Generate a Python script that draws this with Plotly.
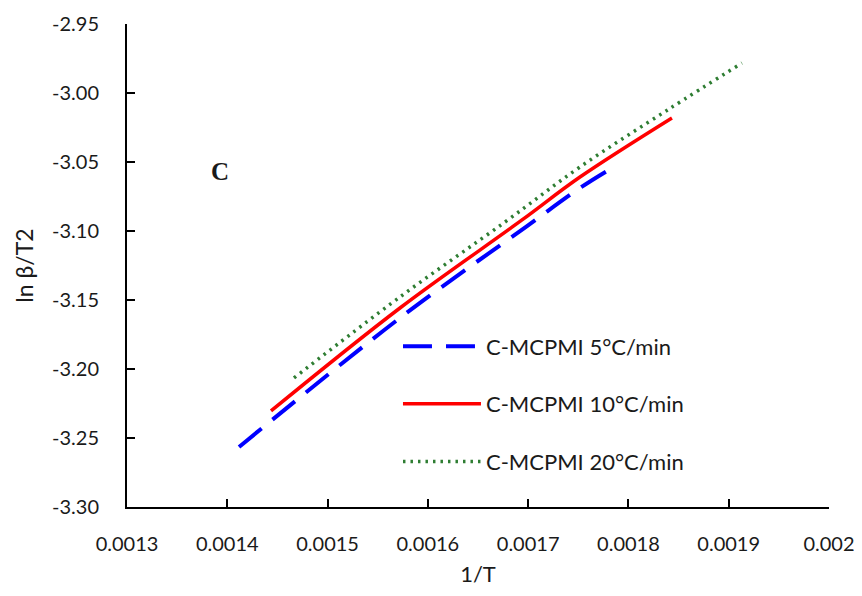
import plotly.graph_objects as go

# ---- data ----
x_5 = [0.0014117, 0.0015722, 0.0016989, 0.0017517, 0.0017786]
y_5 = [-3.2565, -3.1630, -3.0964, -3.0688, -3.0565]

x_10 = [0.0014436, 0.0015722, 0.0016939, 0.0017517, 0.0018434]
y_10 = [-3.2304, -3.1558, -3.0920, -3.0609, -3.0181]

x_20 = [0.0014665, 0.0015722, 0.0016769, 0.0017517, 0.0018405, 0.0019132]
y_20 = [-3.2065, -3.1478, -3.0935, -3.0536, -3.0116, -2.9783]

names = ["C-MCPMI 5°C/min", "C-MCPMI 10°C/min", "C-MCPMI 20°C/min"]

x_tickvals = [0.0013, 0.0014, 0.0015, 0.0016, 0.0017, 0.0018, 0.0019, 0.0020]
x_ticktext = ["0.0013", "0.0014", "0.0015", "0.0016", "0.0017", "0.0018", "0.0019", "0.002"]
y_tickvals = [-3.30, -3.25, -3.20, -3.15, -3.10, -3.05, -3.00, -2.95]
y_ticktext = ["-3.30", "-3.25", "-3.20", "-3.15", "-3.10", "-3.05", "-3.00", "-2.95"]

FONT = "Lato"
TXT = "#1a1a1a"
FS = 20

fig = go.Figure()
fig.add_trace(go.Scatter(x=x_5, y=y_5, mode="lines", name=names[0], legendgroup="a",
                         line=dict(color="#0000FF", width=4, dash="29px,14px"), line_shape="spline"))
fig.add_trace(go.Scatter(x=x_10, y=y_10, mode="lines", name=names[1], legendgroup="b",
                         line=dict(color="#FF0000", width=3.5), line_shape="spline"))
fig.add_trace(go.Scatter(x=x_20, y=y_20, mode="lines", name=names[2], legendgroup="c",
                         line=dict(color="#2E7D32", width=3.5, dash="2.5px,5px"), line_shape="spline"))

# page body has an 8px margin: plot area should land at x 127-829, y 24-507 of the page
fig.update_layout(
    width=854, height=580,
    margin=dict(l=119, r=33, t=16, b=81, autoexpand=False),
    paper_bgcolor="white", plot_bgcolor="white",
    font=dict(family=FONT, size=FS, color=TXT),
    showlegend=True,
    legend=dict(x=0.386, y=0.376, xanchor="left", yanchor="top",
                bgcolor="rgba(0,0,0,0)", tracegroupgap=26, itemwidth=78,
                font=dict(family=FONT, size=22, color=TXT)),
    xaxis=dict(range=[0.0013, 0.0020], tickmode="array", tickvals=x_tickvals, ticktext=x_ticktext,
               showgrid=False, zeroline=False, showline=True, linecolor="black", linewidth=2,
               ticks="inside", ticklen=8, tickcolor="black", tickwidth=1.5,
               ticklabelstandoff=18, ticklabeloverflow="allow", automargin=False,
               tickfont=dict(family=FONT, size=FS, color=TXT),
               title=dict(text="1/T", font=dict(family=FONT, size=22, color=TXT), standoff=13)),
    yaxis=dict(range=[-3.30, -2.95], tickmode="array", tickvals=y_tickvals, ticktext=y_ticktext,
               showgrid=False, zeroline=False, showline=True, linecolor="black", linewidth=2,
               ticks="inside", ticklen=8, tickcolor="black", tickwidth=1.5,
               ticklabelstandoff=22, ticklabeloverflow="allow", automargin=False,
               tickfont=dict(family=FONT, size=FS, color=TXT),
               title=dict(text="ln β/T2", font=dict(family=FONT, size=23, color=TXT), standoff=12)),
    annotations=[dict(x=0.0013927, y=-3.0572, xref="x", yref="y", text="<b>C</b>",
                      showarrow=False, font=dict(family="Liberation Serif", size=25, color=TXT))],
)

fig.write_html("out.html")
